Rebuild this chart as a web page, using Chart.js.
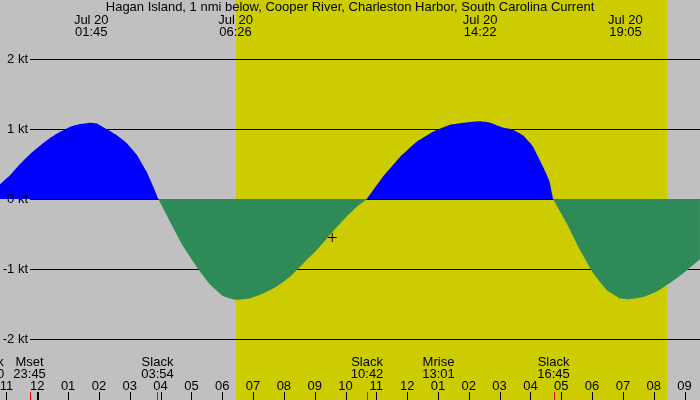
<!DOCTYPE html>
<html>
<head>
<meta charset="utf-8">
<script src="https://cdn.jsdelivr.net/npm/chart.js@4.4.0/dist/chart.umd.min.js"></script>
<style>
  body { margin: 0; background: #c0c0c0; }
  #wrap { width: 700px; height: 400px; }
</style>
</head>
<body>
<div id="wrap"><canvas id="tide" width="700" height="400"></canvas></div>
<script>
// hours since midnight Jul 20 (negative = Jul 19), current in knots
const hours  = [-1.21, -0.886, -0.561, -0.237, 0.088, 0.412, 0.737, 1.061, 1.385, 1.71, 1.93, 2.25, 2.58, 2.90,
                3.23, 3.55, 3.76, 3.93, 4.305, 4.737, 5.172, 5.604, 6.035, 6.415, 6.9, 7.333, 7.768, 8.2, 8.63,
                9.066, 9.497, 9.929, 10.363, 10.688, 11.22, 11.77, 12.32, 12.84, 13.39, 14.04, 14.37, 14.69,
                15.11, 15.43, 15.76, 16.08, 16.41, 16.62, 16.74, 17.18, 17.61, 18.04, 18.475, 18.91, 19.235,
                19.66, 20.10, 20.53, 20.96, 21.395, 21.50];
const speeds = [0.21, 0.34, 0.50, 0.64, 0.76, 0.87, 0.96, 1.03, 1.07, 1.09, 1.08, 1.00, 0.91, 0.80,
                0.63, 0.39, 0.18, 0, -0.32, -0.68, -0.97, -1.22, -1.39, -1.44, -1.42, -1.35, -1.25, -1.11, -0.92,
                -0.73, -0.51, -0.30, -0.11, 0, 0.32, 0.60, 0.82, 0.96, 1.06, 1.10, 1.11, 1.09,
                1.02, 0.99, 0.91, 0.75, 0.46, 0.25, 0, -0.35, -0.73, -1.06, -1.30, -1.42, -1.43,
                -1.40, -1.32, -1.20, -1.06, -0.90, -0.86];

const nowHour = 9.57;
const nowSpeed = -0.55;

const hourTicks = [-1, 0, 1, 2, 3, 4, 5, 6, 7, 8, 9, 10, 11, 12, 13, 14, 15, 16, 17, 18, 19, 20, 21];
const hourLabels = ['11','12','01','02','03','04','05','06','07','08','09','10','11','12','01','02','03','04','05','06','07','08','09'];

const ktTicks = [2, 1, 0, -1, -2];

const peakHours = [1.75, 6.433, 14.367, 19.083];
const peakTimes = ['01:45', '06:26', '14:22', '19:05'];

const eventHours = [-1.6, -0.25, 3.9, 10.7, 13.017, 16.75];
const eventNames = ['Slack', 'Mset', 'Slack', 'Slack', 'Mrise', 'Slack'];
const eventTimes = ['22:20', '23:45', '03:54', '10:42', '13:01', '16:45'];

const sunrise = 6.433;
const sunset = 20.42;

const title = 'Hagan Island, 1 nmi below, Cooper River, Charleston Harbor, South Carolina Current';

const FONT = '13px "Liberation Sans", Arial, sans-serif';

const tidePlugin = {
  id: 'tideDecor',
  beforeDatasetsDraw(chart) {
    const ctx = chart.ctx;
    const xs = chart.scales.x, ys = chart.scales.y;
    ctx.save();
    ctx.fillStyle = '#c0c0c0';
    ctx.fillRect(0, 0, chart.width, chart.height);
    const x1 = Math.round(xs.getPixelForValue(sunrise));
    const x2 = Math.round(xs.getPixelForValue(sunset));
    ctx.fillStyle = '#cccc00';
    ctx.fillRect(x1, 0, x2 - x1, chart.height);
    ctx.strokeStyle = '#000';
    ctx.lineWidth = 1;
    ktTicks.forEach(v => {
      const y = Math.floor(ys.getPixelForValue(v)) + 0.5;
      ctx.beginPath();
      ctx.moveTo(30, y);
      ctx.lineTo(chart.width, y);
      ctx.stroke();
    });
    ctx.restore();
  },
  afterDatasetsDraw(chart) {
    const ctx = chart.ctx;
    const xs = chart.scales.x, ys = chart.scales.y;
    ctx.save();
    ctx.font = FONT;
    ctx.fillStyle = '#000';
    ctx.textBaseline = 'middle';

    // y labels
    ctx.textAlign = 'right';
    ktTicks.forEach(v => {
      ctx.fillText(v + ' kt', 28, ys.getPixelForValue(v));
    });

    ctx.textAlign = 'center';
    ctx.fillText(title, 350, 7);

    peakHours.forEach((h, i) => {
      const x = xs.getPixelForValue(h);
      ctx.fillText('Jul 20', x, 20);
      ctx.fillText(peakTimes[i], x, 32);
    });

    eventHours.forEach((h, i) => {
      const x = xs.getPixelForValue(h);
      ctx.fillText(eventNames[i], x, 362);
      ctx.fillText(eventTimes[i], x, 374);
      ctx.fillStyle = '#ff0000';
      ctx.fillRect(Math.round(x), 392, 1, 8);
      ctx.fillStyle = '#000';
    });

    hourTicks.forEach((h, i) => {
      const x = xs.getPixelForValue(h);
      ctx.fillText(hourLabels[i], x, 386);
      const w = h === 0 ? 2 : 1;
      ctx.fillRect(Math.round(x), 392, w, 8);
    });
    ctx.restore();
  }
};

new Chart(document.getElementById('tide'), {
  type: 'line',
  data: {
    datasets: [{
      data: hours.map((h, i) => ({ x: h, y: speeds[i] })),
      order: 1,
      borderWidth: 0,
      borderColor: 'rgba(0,0,0,0)',
      pointRadius: 0,
      tension: 0.1,
      fill: { target: 'origin', above: '#0000ff', below: '#2e8b57' }
    }, {
      data: [{ x: nowHour, y: nowSpeed }],
      order: 0,
      showLine: false,
      pointStyle: 'cross',
      pointRadius: 4.5,
      borderColor: '#000',
      borderWidth: 1,
      fill: false
    }]
  },
  options: {
    responsive: false,
    animation: false,
    events: [],
    layout: { padding: 0, autoPadding: false },
    plugins: { legend: { display: false }, tooltip: { enabled: false } },
    scales: {
      x: { type: 'linear', min: -1.21, max: 21.502, display: false },
      y: { min: -2.871, max: 2.843, display: false }
    }
  },
  plugins: [tidePlugin]
});
</script>
</body>
</html>
